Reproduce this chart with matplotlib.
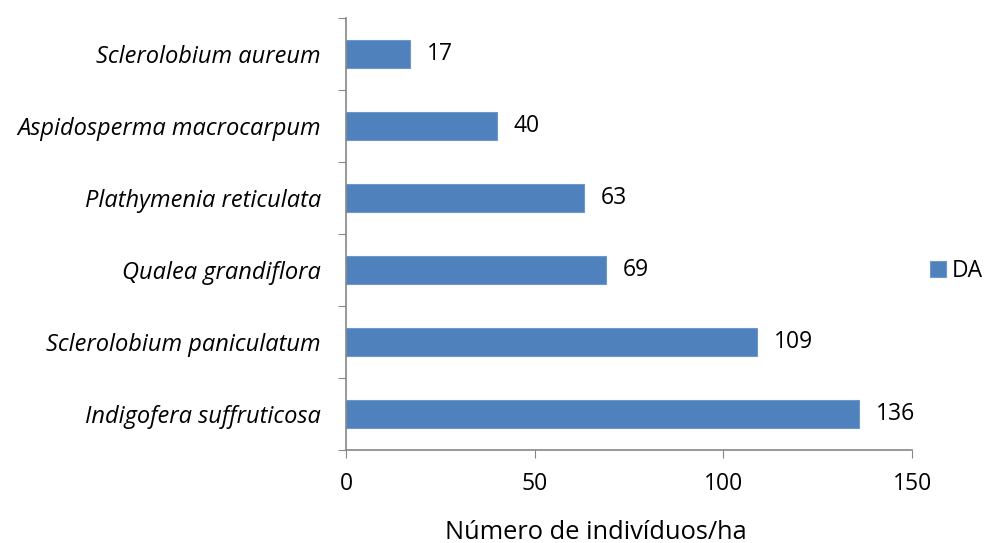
import matplotlib.pyplot as plt

especies = ["Indigofera suffruticosa", "Sclerolobium paniculatum", "Qualea grandiflora",
            "Plathymenia reticulata", "Aspidosperma macrocarpum", "Sclerolobium aureum"]
da = [136, 109, 69, 63, 40, 17]
xticks = [0, 50, 100, 150]

plt.rcParams['font.family'] = ['Open Sans', 'DejaVu Sans']

fig = plt.figure(figsize=(9.86, 5.43), dpi=100)
ax = fig.add_axes([0.3509, 0.1713, 0.925 - 0.3509, 0.9669 - 0.1713])

pos = range(len(especies))
barras = ax.barh(pos, da, height=0.39, color='#4F81BD', edgecolor='#6E97CA',
                 linewidth=0.8, label='DA')
for b, v in zip(barras, da):
    ax.annotate(str(v), (b.get_width(), b.get_y() + b.get_height() / 2),
                xytext=(12, 0), textcoords='offset points', va='center',
                ha='left', fontsize=16.5)

ax.set_xlim(0, 150)
ax.set_ylim(-0.5, len(especies) - 0.5)
ax.set_xticks(xticks)
ax.set_xticklabels([str(t) for t in xticks], fontsize=16.5)
ax.set_yticks([p - 0.5 for p in range(len(especies) + 1)], minor=False)
ax.set_yticklabels([])
ax.set_yticks(list(pos), minor=True)
ax.set_yticklabels(especies, minor=True, fontsize=17, style='italic')
ax.tick_params(axis='y', which='minor', length=0, pad=18)
ax.tick_params(axis='y', which='major', length=6, direction='out', color='#868686')
ax.tick_params(axis='x', length=6, direction='out', color='#868686', pad=10)

for s in ['top', 'right']:
    ax.spines[s].set_visible(False)
for s in ['left', 'bottom']:
    ax.spines[s].set_color('#868686')
    ax.spines[s].set_linewidth(1.2)

ax.set_xlabel('Número de indivíduos/ha', fontsize=18.3, labelpad=17, x=0.442)

ax.legend(loc='center left', bbox_to_anchor=(930 / 986, 1 - 271 / 543),
          bbox_transform=fig.transFigure, frameon=False, borderpad=0,
          borderaxespad=0, handlelength=0.7, handleheight=0.7,
          handletextpad=0.25, fontsize=16.5)

fig.savefig('out.png', dpi=100)
